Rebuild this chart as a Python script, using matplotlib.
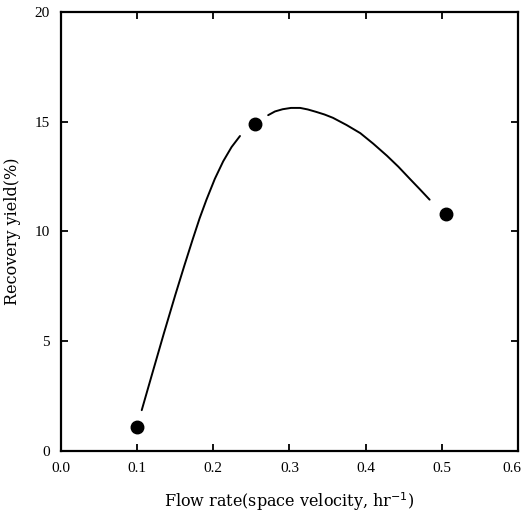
import matplotlib
matplotlib.use("Agg")
import matplotlib.pyplot as plt
import matplotlib.transforms as mtransforms

# measured points
flow_rate = [0.10, 0.255, 0.505]
recovery = [1.1, 14.9, 10.8]

# hand-drawn fit curve (two pieces, broken near the middle point)
curve1_x = [0.106, 0.120, 0.135, 0.150, 0.162, 0.173, 0.182, 0.191, 0.202, 0.213, 0.224, 0.235]
curve1_y = [1.86, 3.55, 5.35, 7.1, 8.45, 9.65, 10.6, 11.45, 12.4, 13.2, 13.85, 14.35]
curve2_x = [0.272, 0.281, 0.291, 0.302, 0.314, 0.324, 0.335, 0.346, 0.357, 0.375,
            0.393, 0.410, 0.428, 0.443, 0.458, 0.471, 0.484]
curve2_y = [15.3, 15.47, 15.57, 15.63, 15.63, 15.56, 15.45, 15.33, 15.18, 14.85,
            14.48, 14.0, 13.45, 12.95, 12.4, 11.93, 11.45]

x_ticks = [0.0, 0.1, 0.2, 0.3, 0.4, 0.5, 0.6]
y_ticks = [0, 5, 10, 15, 20]

plt.rcParams["font.family"] = ["Liberation Serif", "DejaVu Serif"]

fig = plt.figure(figsize=(5.24, 5.15), dpi=100)
ax = fig.add_axes([0.1164, 0.1243, 0.8721, 0.8524])

ax.plot(curve1_x, curve1_y, color="black", lw=1.4, solid_capstyle="round",
        solid_joinstyle="round")
ax.plot(curve2_x, curve2_y, color="black", lw=1.4, solid_capstyle="round",
        solid_joinstyle="round")
ax.plot(flow_rate, recovery, "o", color="black", markersize=9)

ax.set_xlim(0, 0.6)
ax.set_ylim(0, 20)
ax.set_xticks(x_ticks)
ax.set_xticklabels([f"{t:.1f}" for t in x_ticks])
ax.set_yticks(y_ticks)
ax.tick_params(direction="in", length=5, width=1.3, top=True, right=True,
               labelsize=11, pad=8)
for s in ax.spines.values():
    s.set_linewidth(1.6)

# keep the last x label inside the picture
last = ax.get_xticklabels()[-1]
last.set_transform(last.get_transform() +
                   mtransforms.ScaledTranslation(-6 / 100, 0, fig.dpi_scale_trans))

ax.set_xlabel("Flow rate(space velocity, hr$^{-1}$)", fontsize=11.5, labelpad=11,
              family=["DejaVu Serif"])
ax.set_ylabel("Recovery yield(%)", fontsize=11.5, labelpad=10,
              family=["DejaVu Serif"])

fig.savefig("out.png", dpi=100)
